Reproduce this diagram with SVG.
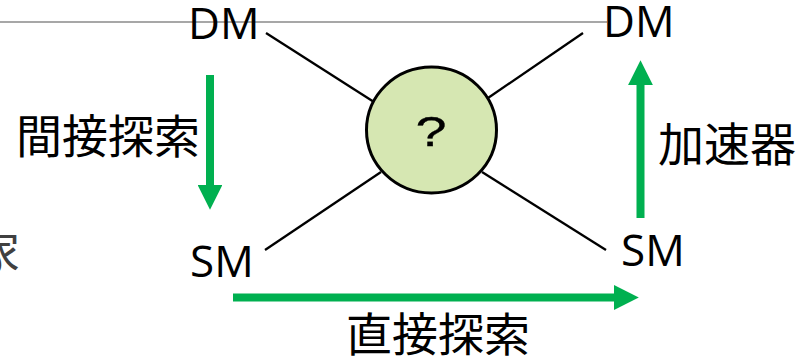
<svg xmlns="http://www.w3.org/2000/svg" width="804" height="361" viewBox="0 0 804 361">
  <style>
    .lat { font-family: "Open Sans", "Liberation Sans", sans-serif; font-size: 44px; fill: #000; }
    .cjk { font-family: "Noto Sans CJK JP", "Noto Sans CJK SC", sans-serif; font-size: 46px; fill: #000; }
    .link { stroke: #000; stroke-width: 2.3; fill: none; }
    .garrow { stroke: #00B050; stroke-width: 8; fill: none; marker-end: url(#ghead); }
  </style>
  <defs>
    <marker id="ghead" viewBox="0 0 10 10" refX="0" refY="5" markerWidth="3.1" markerHeight="3.1" orient="auto" markerUnits="strokeWidth">
      <path d="M0,0 L10,5 L0,10 z" fill="#00B050"/>
    </marker>
  </defs>
  <rect width="804" height="361" fill="#fff"/>
  <line x1="0" y1="22" x2="607" y2="22" stroke="#8a8a8a" stroke-width="1.5"/>
  <text x="-26" y="269" class="cjk" style="fill:#404040">家</text>

  <g id="connectors">
    <line class="link" x1="266" y1="33" x2="374" y2="102"/>
    <line class="link" x1="583" y1="33" x2="488" y2="98"/>
    <line class="link" x1="265" y1="250" x2="381" y2="172"/>
    <line class="link" x1="606" y1="250" x2="482" y2="172"/>
    <line class="garrow" x1="210" y1="75" x2="210" y2="185"/>
    <line class="garrow" x1="640.5" y1="218" x2="640.5" y2="85"/>
    <line class="garrow" x1="233" y1="297.5" x2="614" y2="297.5"/>
  </g>

  <g id="node-center">
    <ellipse cx="431.5" cy="130" rx="65" ry="63" fill="#D6E7B2" stroke="#000" stroke-width="3"/>
    <text x="0" y="0" text-anchor="middle" font-family="Liberation Sans, Arial, sans-serif" font-size="43" stroke="#000" stroke-width="0.3" transform="translate(431 146) scale(1.3 1)">?</text>
  </g>
  <g id="node-dm-left"><text x="188" y="39" class="lat">DM</text></g>
  <g id="node-dm-right"><text x="603" y="37" class="lat">DM</text></g>
  <g id="node-sm-left"><text x="190" y="277" class="lat">SM</text></g>
  <g id="node-sm-right"><text x="621" y="266" class="lat">SM</text></g>

  <g id="label-indirect"><text x="16" y="153" class="cjk">間接探索</text></g>
  <g id="label-accel"><text x="658" y="161" class="cjk">加速器</text></g>
  <g id="label-direct"><text x="346" y="351" class="cjk">直接探索</text></g>
</svg>
